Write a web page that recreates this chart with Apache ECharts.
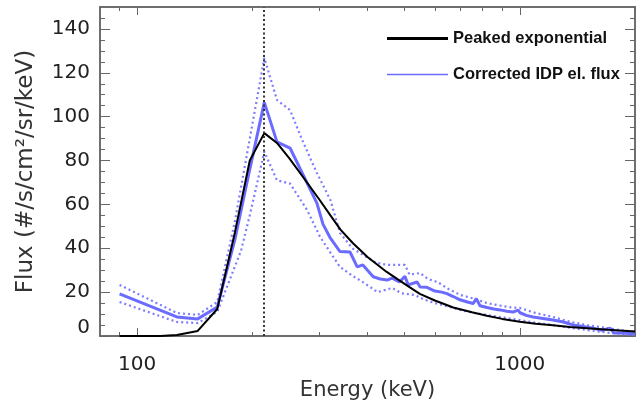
<!DOCTYPE html>
<html>
<head>
<meta charset="utf-8">
<script src="https://cdn.jsdelivr.net/npm/echarts@6/dist/echarts.min.js"></script>
<style>
  html, body { margin: 0; padding: 0; background: #fff; }
  #area { width: 637px; height: 408px; }
</style>
</head>
<body>
<div id="area"></div>
<script>
// peaked exponential model (black)
const energyPeak = [90, 115, 127, 144, 162, 180, 197, 215, 232, 250, 278, 300, 320, 340, 366, 400, 449, 500, 548, 600, 670, 750, 820, 900, 1000, 1100, 1220, 1350, 1500, 1700, 2000];
const fluxPeak = [0, 0, 0.5, 2.3, 12.3, 47, 80, 92.5, 88, 81, 70, 62, 55, 48.5, 42.4, 36, 29.2, 23.8, 19.2, 16.2, 13, 10.8, 9.2, 7.8, 6.5, 5.6, 4.9, 4.1, 3.5, 2.8, 2.0];

// corrected IDP electron flux (blue)
const energyIdp = [90, 127, 144, 162, 180, 197, 215, 232, 251, 278, 295, 306, 319, 339, 360, 376, 389, 414, 432, 450, 464, 485, 501, 511, 539, 549, 572, 600, 625, 645, 670, 698, 730, 755, 770, 787, 821, 855, 888, 925, 960, 990, 1001, 1040, 1083, 1150, 1221, 1300, 1378, 1450, 1554, 1640, 1721, 1760, 1820, 1900, 2000];
const fluxIdp = [19.2, 8.7, 7.8, 13.2, 43.8, 76, 106.5, 88.5, 85.7, 69.8, 60.6, 51, 45, 38.5, 38.3, 31.5, 32.4, 27, 26, 25.5, 26.4, 24.6, 27.2, 23.3, 24.6, 22.3, 22.2, 20.5, 20, 19.3, 18, 16.5, 15.5, 14.8, 17, 13.8, 13, 12.3, 11.9, 11.3, 10.9, 11.8, 10.6, 9.4, 8.7, 8, 7.3, 6.4, 5, 4.5, 3.6, 2.6, 3.6, 1.4, 1.4, 1.3, 0.9];

// error band (dotted)
const energyHigh = [90, 127, 144, 162, 180, 197, 215, 232, 251, 270, 295, 320, 339, 365, 389, 420, 450, 475, 501, 515, 549, 575, 610, 650, 700, 760, 821, 880, 950, 1000, 1100, 1221, 1350, 1500, 1700, 2000];
const fluxHigh = [23.3, 10.5, 9.6, 15.5, 52, 90, 126.8, 107.6, 103, 89.4, 74.3, 62, 47, 40, 37, 33.5, 32.4, 32.4, 32.4, 28, 28.7, 26, 24.6, 21.5, 18.7, 17, 15, 14, 13, 12.8, 10.5, 8.7, 6.5, 5, 3.5, 1.8];
const energyLow = [90, 127, 144, 162, 187, 197, 215, 232, 251, 278, 300, 320, 339, 365, 389, 425, 464, 490, 530, 565, 600, 650, 698, 760, 821, 900, 1000, 1100, 1221, 1350, 1500, 1700, 2000];
const fluxLow = [15.5, 6.4, 5.9, 11, 39, 55, 84, 71, 69.5, 57.5, 45.5, 38, 31.5, 27.5, 24.6, 20, 21.9, 19.5, 18.7, 16.5, 15, 13.5, 11.9, 10.5, 9.6, 8.5, 7.3, 6, 5, 3.8, 2.7, 1.5, 0.5];

const peakEnergy = [215];

const xTicksMajor = [100, 1000];
const xTicksMinor = [90, 200, 300, 400, 500, 600, 700, 800, 900, 2000];
const yTicksMajor = [0, 20, 40, 60, 80, 100, 120, 140];
const yTicksMinor = [5, 10, 15, 25, 30, 35, 45, 50, 55, 65, 70, 75, 85, 90, 95, 105, 110, 115, 125, 130, 135, 145];

const frameColor = '#666';
const font = 'DejaVu Sans';

function pairs(xs, ys) {
  return xs.map((e, i) => [Math.log10(e), ys[i]]);
}

function xAxisOf(position, ticks, len, withLabel) {
  return {
    type: 'value', position,
    min: Math.log10(80), max: Math.log10(2000),
    axisLine: { show: true, onZero: false, lineStyle: { color: frameColor, width: 1.5 } },
    axisTick: { show: true, inside: true, length: len, customValues: ticks.map(v => Math.log10(v)),
      lineStyle: { color: frameColor, width: 1 } },
    axisLabel: withLabel ? {
      show: true, customValues: ticks.map(v => Math.log10(v)), margin: 19,
      fontFamily: font, fontSize: 20, color: '#222',
      formatter: v => String(Math.round(Math.pow(10, v)))
    } : { show: false },
    splitLine: { show: false },
    name: withLabel ? 'Energy (keV)' : '',
    nameLocation: 'middle', nameGap: 43,
    nameTextStyle: { fontFamily: font, fontSize: 21, color: '#333' }
  };
}

function yAxisOf(position, ticks, len, withLabel) {
  return {
    type: 'value', position, min: 0, max: 150,
    axisLine: { show: true, onZero: false, lineStyle: { color: frameColor, width: 1.5 } },
    axisTick: { show: true, inside: true, length: len, customValues: ticks,
      lineStyle: { color: frameColor, width: 1 } },
    axisLabel: withLabel ? {
      show: true, customValues: ticks, margin: 10,
      fontFamily: font, fontSize: 20, color: '#222',
      formatter: v => v === 0 ? '{z|0}' : String(v),
      rich: { z: { fontFamily: font, fontSize: 20, color: '#222', padding: [0, 0, 16, 0] } }
    } : { show: false },
    splitLine: { show: false },
    name: withLabel ? 'Flux (#/s/cm²/sr/keV)' : '',
    nameLocation: 'middle', nameGap: 62,
    nameTextStyle: { fontFamily: font, fontSize: 23, color: '#333' }
  };
}

const blue = '#6b6bff';
const blueDot = '#7c7cff';

let option = {
  animation: false,
  backgroundColor: '#fff',
  grid: { left: 100, right: 2, top: 7, bottom: 72 },
  legend: {
    orient: 'vertical', left: 387, top: 30, padding: 0,
    itemWidth: 61, itemHeight: 16, itemGap: 19,
    textStyle: { fontFamily: 'Liberation Sans', fontWeight: 'bold', fontSize: 16.5, color: '#111' },
    data: [
      { name: 'Peaked exponential', icon: 'path://M0,0 H61 V3 H0 Z' },
      { name: 'Corrected IDP el. flux', icon: 'path://M0,0 H61 V1.6 H0 Z' }
    ]
  },
  xAxis: [
    xAxisOf('bottom', xTicksMajor, 8, true),
    xAxisOf('bottom', xTicksMinor, 4, false),
    xAxisOf('top', xTicksMajor, 8, false),
    xAxisOf('top', xTicksMinor, 4, false)
  ],
  yAxis: [
    yAxisOf('left', yTicksMajor, 10, true),
    yAxisOf('left', yTicksMinor, 5, false),
    yAxisOf('right', yTicksMajor, 10, false),
    yAxisOf('right', yTicksMinor, 5, false)
  ],
  series: [
    {
      name: 'IDP upper', type: 'line', symbol: 'none', silent: true,
      data: pairs(energyHigh, fluxHigh),
      lineStyle: { color: blueDot, width: 2.2, type: [2, 3] }
    },
    {
      name: 'IDP lower', type: 'line', symbol: 'none', silent: true,
      data: pairs(energyLow, fluxLow),
      lineStyle: { color: blueDot, width: 2.2, type: [2, 3] }
    },
    {
      name: 'Corrected IDP el. flux', type: 'line', symbol: 'none',
      data: pairs(energyIdp, fluxIdp),
      itemStyle: { color: blue },
      lineStyle: { color: blue, width: 3 }
    },
    {
      name: 'Peaked exponential', type: 'line', symbol: 'none',
      data: pairs(energyPeak, fluxPeak),
      itemStyle: { color: '#000' },
      lineStyle: { color: '#000', width: 2 },
      markLine: {
        silent: true, symbol: ['none', 'none'], label: { show: false },
        lineStyle: { color: '#333', type: [2, 2.5], width: 2 },
        data: peakEnergy.map(e => ({ xAxis: Math.log10(e) }))
      }
    }
  ]
};

let myChart = echarts.init(document.getElementById('area'));
myChart.setOption(option);
window.addEventListener('resize', function () {
  myChart.resize();
}, false);
</script>
</body>
</html>
